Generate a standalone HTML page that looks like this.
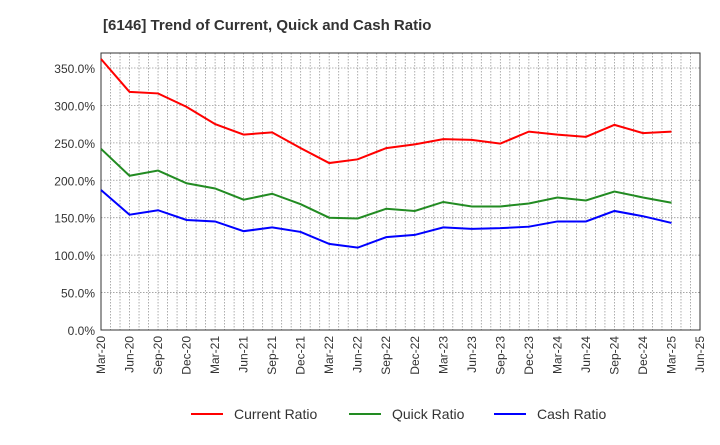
<!DOCTYPE html>
<html><head><meta charset="utf-8"><style>
body{margin:0;background:#fff;font-family:"Liberation Sans",sans-serif}
</style></head><body>
<svg id="c" width="720" height="440" xmlns="http://www.w3.org/2000/svg">
<text x="103" y="30" font-size="15" font-weight="bold" fill="#333">[6146]  Trend of Current, Quick and Cash Ratio</text>
<g id="grid"></g><g id="axes"></g><g id="series"></g>
<g>
<line x1="191" y1="414" x2="223" y2="414" stroke="#f00" stroke-width="2"/><text x="234" y="419" font-size="14" fill="#333">Current Ratio</text>
<line x1="349" y1="414" x2="381" y2="414" stroke="#228B22" stroke-width="2"/><text x="392" y="419" font-size="14" fill="#333">Quick Ratio</text>
<line x1="494" y1="414" x2="526" y2="414" stroke="#00f" stroke-width="2"/><text x="537" y="419" font-size="14" fill="#333">Cash Ratio</text>
</g>
</svg>
<script>
const categories=["Mar-20","Jun-20","Sep-20","Dec-20","Mar-21","Jun-21","Sep-21","Dec-21","Mar-22","Jun-22","Sep-22","Dec-22","Mar-23","Jun-23","Sep-23","Dec-23","Mar-24","Jun-24","Sep-24","Dec-24","Mar-25","Jun-25"];
const currentRatio=[362,318,316,298,275,261,264,243,223,228,243,248,255,254,249,265,261,258,274,263,265];
const quickRatio=[242,206,213,196,189,174,182,168,150,149,162,159,171,165,165,169,177,173,185,177,170];
const cashRatio=[187,154,160,147,145,132,137,131,115,110,124,127,137,135,136,138,145,145,159,152,143];
const yTicks=[0,50,100,150,200,250,300,350];
const L=101,R=700,T=53,B=330,YMAX=370;
const NS="http://www.w3.org/2000/svg";
const xq=i=>L+(R-L)*i/(categories.length-1);
const y=v=>B-(B-T)*v/YMAX;
function mk(tag,attrs,parent){const e=document.createElementNS(NS,tag);for(const k in attrs)e.setAttribute(k,attrs[k]);parent.appendChild(e);return e;}
const grid=document.getElementById('grid'),axes=document.getElementById('axes'),ser=document.getElementById('series');
const nm=(categories.length-1)*3;
for(let m=1;m<nm;m++){const xx=L+(R-L)*m/nm;const g=mk('line',{x1:xx,x2:xx,y1:T,y2:B,stroke:'#999','stroke-dasharray':'1.5,1.5','stroke-width':0.8},grid);

}
yTicks.forEach(v=>{const g=mk('line',{x1:L,x2:R,y1:y(v),y2:y(v),stroke:'#999','stroke-dasharray':'1.5,1.5','stroke-width':0.8},grid);


const t=mk('text',{x:L-6,y:y(v)+5,'text-anchor':'end','font-size':12,fill:'#333'},axes);t.textContent=v.toFixed(1)+'%';

});
const fr=mk('rect',{x:L,y:T,width:R-L,height:B-T,fill:'none',stroke:'#333','stroke-width':1},axes);


categories.forEach((c,i)=>{const xx=xq(i);const t=mk('text',{x:xx+4,y:B+6,'text-anchor':'end','font-size':12,fill:'#333',transform:`rotate(-90 ${xx+4} ${B+6})`},axes);t.textContent=c;

});
[[currentRatio,'#f00','current-ratio-line'],[quickRatio,'#228B22','quick-ratio-line'],[cashRatio,'#00f','cash-ratio-line']].forEach(([d,col,n])=>{
const p=mk('polyline',{points:d.map((v,i)=>xq(i)+','+y(v)).join(' '),fill:'none',stroke:col,'stroke-width':2},ser);

});
</script>
</body></html>
